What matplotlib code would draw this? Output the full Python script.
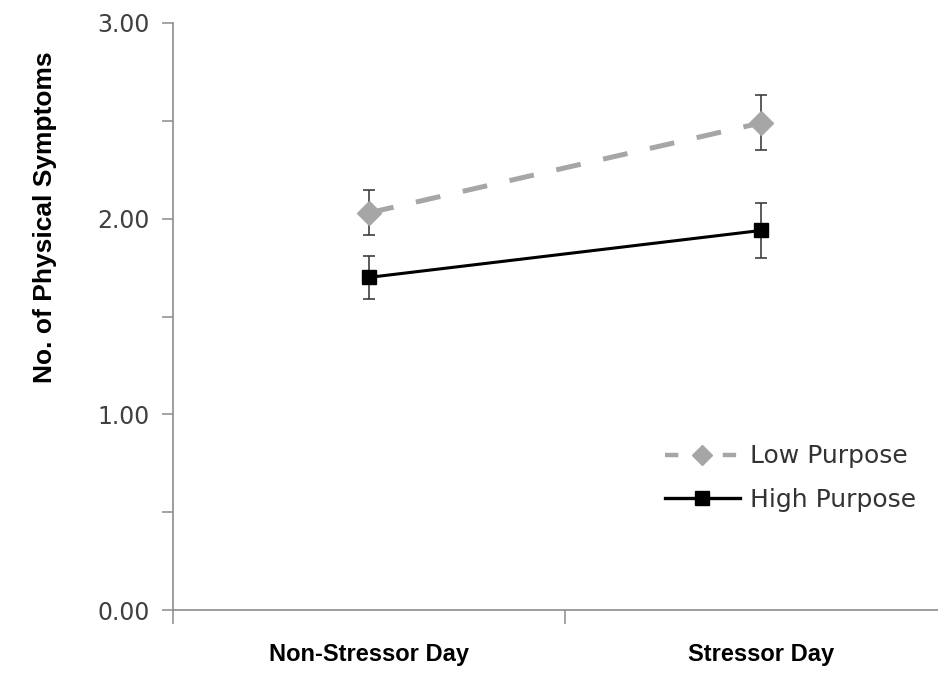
import numpy as np
import matplotlib.pyplot as plt
from matplotlib.ticker import MultipleLocator, FixedLocator
from matplotlib.lines import Line2D

# data
days = ['Non-Stressor Day', 'Stressor Day']
low_purpose = [2.03, 2.49]
low_err = [0.115, 0.14]
high_purpose = [1.70, 1.94]
high_err = [0.11, 0.14]
y_ticks = [0.0, 1.0, 2.0, 3.0]

plt.rcParams['font.family'] = ['Liberation Sans', 'DejaVu Sans']

fig = plt.figure(figsize=(9.38, 6.75), dpi=100)
# axes: left spine at x=173px, bottom at y=610px, top (3.00) at y=23px
ax = fig.add_axes([173 / 938, 65 / 675, (938 - 173) / 938, 587 / 675])

x = np.arange(len(days))
axis_col = '#8c8c8c'
low_col = '#a6a6a6'
err_col = '#404040'

ax.errorbar(x, low_purpose, yerr=low_err, color=low_col, lw=3.6,
            dashes=(5, 4.6), marker='D', ms=12, mfc=low_col, mec=low_col,
            ecolor=err_col, elinewidth=1.2, capsize=4.5, capthick=1.2,
            zorder=3)
ax.errorbar(x, high_purpose, yerr=high_err, color='black', lw=2.2,
            marker='s', ms=10, mfc='black', mec='black',
            ecolor=err_col, elinewidth=1.2, capsize=4.5, capthick=1.2,
            zorder=4)

ax.set_xlim(-0.5, 1.45)
ax.set_ylim(0, 3.0)

for s in ['top', 'right']:
    ax.spines[s].set_visible(False)
for s in ['left', 'bottom']:
    ax.spines[s].set_color(axis_col)
    ax.spines[s].set_linewidth(1.2)

ax.yaxis.set_major_locator(FixedLocator(y_ticks))
ax.yaxis.set_minor_locator(MultipleLocator(0.5))
ax.set_yticklabels(['%.2f' % v for v in y_ticks], fontsize=17, color='#404040',
                   family='DejaVu Sans')
ax.tick_params(axis='y', which='both', length=8, width=1.1, color=axis_col, pad=9)

ax.set_xticks(x)
ax.set_xticklabels(days, fontsize=17, fontweight='bold', color='black')
ax.xaxis.set_minor_locator(FixedLocator([-0.5, 0.5]))
ax.tick_params(axis='x', which='major', length=0, pad=24)
ax.tick_params(axis='x', which='minor', length=10, width=1.1, color=axis_col)

ax.set_ylabel('No. of Physical Symptoms', fontsize=19, fontweight='bold')
ax.yaxis.set_label_coords(-0.152, 0.67)

# legend proxies (no error bars in the legend)
h_low = Line2D([], [], color=low_col, lw=3.2, dashes=(3.0, 10.0),
               marker='D', ms=10, mfc=low_col, mec=low_col)
h_high = Line2D([], [], color='black', lw=2.4, marker='s', ms=10,
                mfc='black', mec='black')
leg = ax.legend([h_low, h_high], ['Low Purpose', 'High Purpose'],
                loc='upper left', bbox_to_anchor=(0.643, 0.282), frameon=False,
                prop={'family': 'DejaVu Sans', 'size': 18},
                handlelength=3.0, handletextpad=0.4, labelspacing=0.78,
                borderpad=0, borderaxespad=0)
for t in leg.get_texts():
    t.set_color('#333333')

fig.savefig('out.png', dpi=100)
